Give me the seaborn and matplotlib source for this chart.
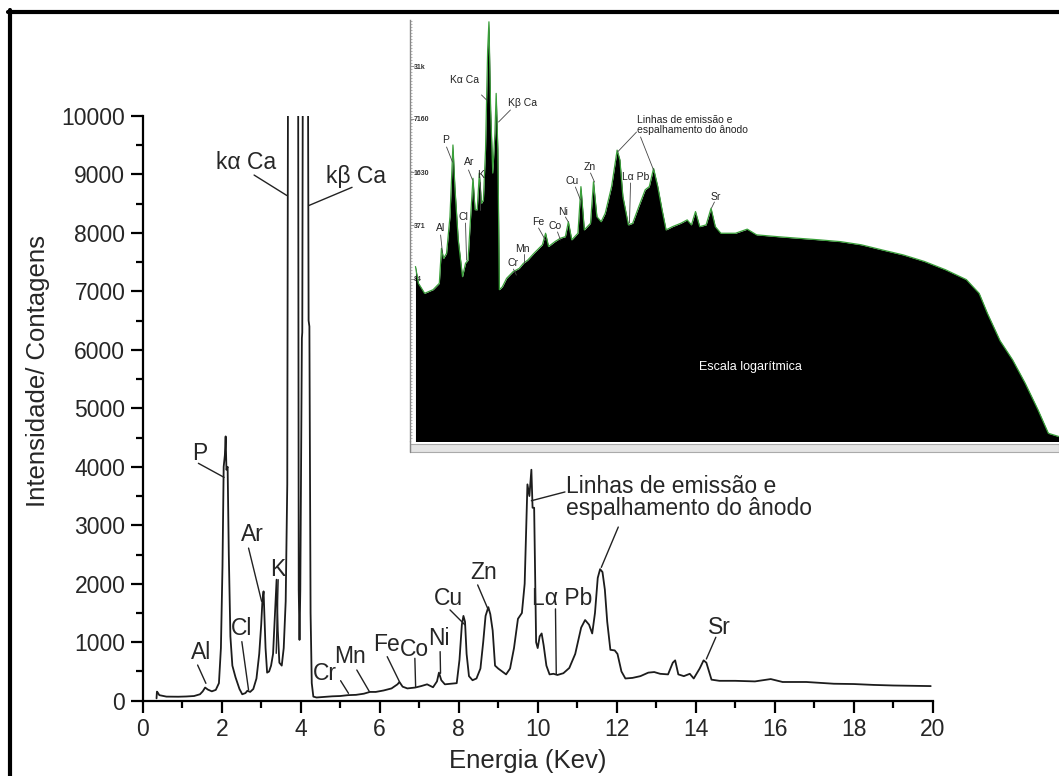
import numpy as np
import pandas as pd
import matplotlib
matplotlib.use("Agg")
import matplotlib.pyplot as plt
import seaborn as sns
from matplotlib.lines import Line2D
from matplotlib.patches import Rectangle
from matplotlib.ticker import MultipleLocator, FixedLocator, NullFormatter

# ---------------- data ----------------
# main spectrum (linear scale), energy in keV and counts
energy_kev = [0.35, 0.36, 0.38, 0.42, 0.6, 0.9, 1.1, 1.3, 1.45, 1.52, 1.58, 1.65, 1.75, 1.85,
              1.93, 1.98, 2.02, 2.05, 2.08, 2.10, 2.12, 2.15, 2.18, 2.22, 2.27, 2.35, 2.45,
              2.52, 2.6, 2.65, 2.72, 2.8, 2.88, 2.95, 3.0, 3.03, 3.06, 3.08, 3.11, 3.15, 3.2,
              3.25, 3.3, 3.35, 3.39, 3.42, 3.46, 3.52, 3.57, 3.62, 3.66, 3.69, 3.75, 3.85,
              3.93, 3.95, 3.97, 3.99, 4.03, 4.04, 4.06, 4.12, 4.18, 4.20, 4.22, 4.25, 4.28,
              4.32, 4.4, 4.6, 4.8, 5.0, 5.2, 5.4, 5.6, 5.75, 5.9, 6.1, 6.3, 6.45, 6.5, 6.58,
              6.7, 6.9, 7.05, 7.2, 7.35, 7.45, 7.5, 7.56, 7.65, 7.8, 7.95, 8.02, 8.08, 8.12,
              8.16, 8.2, 8.26, 8.35, 8.45, 8.55, 8.62, 8.68, 8.75, 8.8, 8.86, 8.92, 9.0, 9.1,
              9.2, 9.3, 9.4, 9.5, 9.6, 9.67, 9.74, 9.79, 9.84, 9.87, 9.91, 9.96, 10.0, 10.05,
              10.1, 10.15, 10.22, 10.3, 10.4, 10.5, 10.65, 10.8, 10.95, 11.1, 11.2, 11.3,
              11.38, 11.45, 11.52, 11.58, 11.64, 11.7, 11.76, 11.84, 11.95, 12.02, 12.12,
              12.22, 12.4, 12.6, 12.8, 12.95, 13.1, 13.3, 13.42, 13.48, 13.56, 13.7, 13.85,
              13.95, 14.1, 14.2, 14.27, 14.4, 14.6, 15.0, 15.5, 15.9, 16.2, 16.8, 17.5, 18.0,
              18.5, 19.0, 19.5, 19.95]
counts = [40, 155, 140, 95, 70, 68, 72, 80, 110, 160, 225, 190, 160, 185,
          300, 900, 2300, 4000, 4200, 4520, 3950, 4000, 2500, 1100, 600, 400, 200,
          110, 130, 170, 150, 200, 380, 800, 1300, 1700, 1870, 1500, 900, 480, 500,
          600, 800, 1500, 2070, 1200, 650, 600, 900, 1700, 3700, 15000, 40000, 30000,
          14000, 1900, 1040, 1900, 6200, 6300, 13000, 15000, 12000, 6500, 6400, 1500, 300,
          70, 55, 65, 75, 80, 95, 100, 120, 150, 150, 175, 210, 280, 320, 240,
          210, 225, 250, 280, 230, 330, 480, 350, 280, 290, 300, 700, 1300, 1450,
          1350, 800, 420, 350, 380, 550, 1000, 1450, 1600, 1480, 1200, 600, 550, 500,
          450, 550, 900, 1400, 1500, 2000, 3700, 3500, 3950, 3300, 3300, 1000, 900, 1100,
          1150, 950, 600, 450, 460, 440, 470, 560, 800, 1250, 1380, 1300,
          1150, 1500, 2100, 2250, 2200, 1900, 1350, 870, 860, 800, 500,
          380, 390, 420, 480, 490, 460, 450, 650, 690, 450, 420, 460,
          380, 550, 690, 650, 360, 340, 340, 330, 370, 320, 320, 290, 285,
          270, 260, 255, 250]

# inset spectrum (logarithmic scale screenshot)
inset_energy_kev = [0.28, 0.42, 0.71, 1.11, 1.40, 1.50, 1.60, 1.74, 1.90, 2.04, 2.13, 2.29,
                    2.49, 2.63, 2.75, 2.88, 2.98, 3.08, 3.18, 3.28, 3.38, 3.47, 3.57, 3.67,
                    3.73, 3.81, 3.91, 4.01, 4.07, 4.15, 4.22, 4.36, 4.56, 4.86, 5.15, 5.35,
                    5.55, 5.84, 6.24, 6.39, 6.53, 6.83, 7.08, 7.32, 7.46, 7.62, 7.91, 8.05,
                    8.21, 8.50, 8.64, 8.80, 9.0, 9.19, 9.49, 9.75, 9.88, 10.02, 10.28, 10.48,
                    10.77, 11.07, 11.26, 11.46, 11.66, 11.86, 12.05, 12.35, 12.74, 13.04,
                    13.24, 13.43, 13.63, 13.93, 14.16, 14.36, 14.62, 15.31, 15.86, 16.30,
                    17.28, 18.27, 19.25, 20.24, 21.22, 22.21, 23.19, 24.18, 25.17, 26.15,
                    26.75, 27.14, 27.73, 28.32, 28.91, 29.51, 30.0, 30.5]
inset_counts = [118, 74, 56, 62, 74, 196, 148, 170, 473, 3475, 1090, 248,
                89, 129, 141, 518, 1375, 573, 573, 1590, 686, 750, 3010, 49000,
                107000, 9250, 1590, 4800, 14600, 3010, 62, 67, 85, 102, 112, 129,
                141, 170, 216, 298, 206, 236, 259, 271, 411, 248, 298, 1090,
                327, 393, 1250, 473, 411, 518, 1090, 3010, 2300, 830, 376, 393,
                627, 1000, 1090, 1810, 1090, 573, 327, 358, 393, 432,
                376, 545, 358, 376, 597, 358, 298, 298, 334, 285,
                271, 259, 248, 236, 216, 187, 163, 136, 108, 82,
                56, 32, 15, 8.8, 4.6, 2.2, 1.14, 1.04]

x_ticks = [0, 2, 4, 6, 8, 10, 12, 14, 16, 18, 20]
y_ticks = [0, 1000, 2000, 3000, 4000, 5000, 6000, 7000, 8000, 9000, 10000]
inset_tick_values = [31000, 7160, 1630, 371, 84]
inset_tick_labels = ["31k", "7160", "1630", "371", "84"]

# peak labels on the main chart: text, text position, leader line start and end
main_labels = [
    ("kα Ca", 2.62, 9200, 2.82, 8990, 3.65, 8640),
    ("kβ Ca", 5.40, 8970, 5.30, 8780, 4.21, 8470),
    ("P", 1.45, 4220, 1.41, 4060, 2.06, 3820),
    ("Ar", 2.78, 2840, 2.68, 2610, 3.01, 1700),
    ("K", 3.41, 2250, 3.43, 2070, 3.38, 810),
    ("Cl", 2.51, 1240, 2.51, 1010, 2.68, 183),
    ("Al", 1.47, 820, 1.39, 610, 1.60, 297),
    ("Cr", 4.62, 470, 5.01, 342, 5.21, 126),
    ("Mn", 5.25, 753, 5.42, 525, 5.74, 154),
    ("Fe", 6.18, 953, 6.19, 753, 6.50, 325),
    ("Co", 6.87, 868, 6.89, 725, 6.91, 228),
    ("Ni", 7.51, 1067, 7.53, 839, 7.54, 468),
    ("Cu", 7.74, 1752, 7.78, 1553, 8.16, 1296),
    ("Zn", 8.62, 2190, 8.48, 1980, 8.75, 1552),
    ("Lα Pb", 10.62, 1740, 10.45, 1570, 10.47, 457),
    ("Sr", 14.6, 1244, 14.51, 1085, 14.27, 713),
]
anode_text = "Linhas de emissão e\nespalhamento do ânodo"
anode_lines = [(10.69, 3570, 9.84, 3420), (12.04, 2970, 11.61, 2280)]

inset_labels = [
    ("Kα Ca", 2.58, 21200, 3.38, 13980, 3.62, 12150),
    ("Kβ Ca", 5.31, 11200, 4.74, 9200, 4.18, 6580),
    ("P", 1.69, 3990, 1.74, 3285, 2.02, 2160),
    ("Ar", 2.82, 2160, 2.77, 1733, 2.96, 1310),
    ("K", 3.33, 1507, 3.29, 1240, 3.29, 569),
    ("Cl", 2.54, 469, 2.63, 396, 2.68, 141),
    ("Al", 1.46, 345, 1.46, 284, 1.55, 172),
    ("Cu", 7.65, 1275, 7.79, 1079, 8.03, 752),
    ("Zn", 8.45, 1882, 8.50, 1594, 8.69, 1236),
    ("Lα Pb", 10.61, 1423, 10.38, 1207, 10.33, 396),
    ("Ni", 7.23, 538, 7.32, 469, 7.46, 408),
    ("Fe", 6.06, 408, 6.06, 345, 6.38, 247),
    ("Co", 6.85, 365, 6.95, 309, 7.09, 247),
    ("Mn", 5.31, 192, 5.40, 167, 5.40, 130),
    ("Cr", 4.84, 130, 4.88, 110, 5.02, 93),
    ("Sr", 14.37, 817, 14.32, 711, 14.18, 600),
]
inset_anode_lines = [(10.66, 4980, 9.77, 2860), (10.85, 4340, 11.46, 1733)]

# ---------------- figure ----------------
sns.set_style("white")
plt.rcParams['font.family'] = ['Liberation Sans', 'DejaVu Sans']

W, H = 1059, 776
fig = plt.figure(figsize=(W / 100, H / 100), dpi=100)

def px_rect(x0, y0, x1, y1):
    return [x0 / W, 1 - y1 / H, (x1 - x0) / W, (y1 - y0) / H]

main_df = pd.DataFrame({"Energia": energy_kev, "Contagens": counts})
ax = fig.add_axes(px_rect(142.7, 116.0, 932.7, 700.7))
sns.lineplot(data=main_df, x="Energia", y="Contagens", ax=ax, sort=False,
             estimator=None, color="#1c1c1c", lw=1.3)
ax.set_xlim(0, 20)
ax.set_ylim(0, 10000)
ax.set_xticks(x_ticks)
ax.set_yticks(y_ticks)
ax.xaxis.set_minor_locator(MultipleLocator(1))
ax.yaxis.set_minor_locator(MultipleLocator(500))
for s in ["top", "right"]:
    ax.spines[s].set_visible(False)
for s in ["left", "bottom"]:
    ax.spines[s].set_linewidth(1.6)
    ax.spines[s].set_color("black")
ax.tick_params(which="major", direction="out", length=8.5, width=1.6,
               labelsize=16.5, pad=4, color="black", left=True, bottom=True)
ax.tick_params(which="minor", direction="out", length=5, width=1.6,
               color="black", left=True, bottom=True)
ax.set_xlabel("Energia (Kev)", fontsize=18.5)
ax.set_ylabel("Intensidade/ Contagens", fontsize=18.5)
ax.xaxis.set_label_coords(0.488, -0.083)
ax.yaxis.set_label_coords(-0.117, 0.564)
ax.grid(False)
ax.patch.set_alpha(0)

for txt, tx, ty, x0, y0, x1, y1 in main_labels:
    ax.text(tx, ty, txt, fontsize=16.5, ha="center", va="center")
    ax.plot([x0, x1], [y0, y1], color="#222222", lw=1.0, clip_on=False)
ax.text(10.72, 3470, anode_text, fontsize=16.5, ha="left", va="center", linespacing=0.95)
for x0, y0, x1, y1 in anode_lines:
    ax.plot([x0, x1], [y0, y1], color="#222222", lw=1.0, clip_on=False)

# ---------------- inset (log scale screenshot) ----------------
inset_df = pd.DataFrame({"Energia": inset_energy_kev, "Contagens": inset_counts})
ia = fig.add_axes(px_rect(409.5, 20.0, 1059.0, 441.0))
ia.set_facecolor("white")
ia.set_yscale("log")
ia.fill_between(inset_df["Energia"], inset_df["Contagens"], 1e-3, color="black", lw=0)
sns.lineplot(data=inset_df, x="Energia", y="Contagens", ax=ia, sort=False,
             estimator=None, color="#3aa03a", lw=0.9)
ia.set_xlim(0, 30.5)
ia.set_ylim(0.92, 112500)
ia.set_xlabel("")
ia.set_ylabel("")
ia.set_xticks([])
ia.yaxis.set_major_locator(FixedLocator(inset_tick_values))
ia.set_yticklabels(inset_tick_labels)
ia.yaxis.set_minor_locator(FixedLocator(np.geomspace(1, 110000, 140)))
ia.yaxis.set_minor_formatter(NullFormatter())
ia.tick_params(axis="y", which="major", direction="in", length=3, width=0.6,
               color="#777777", labelsize=5, pad=-3, left=True)
ia.tick_params(axis="y", which="minor", direction="in", length=1.5, width=0.5,
               color="#999999", left=True)
for lbl in ia.get_yticklabels():
    lbl.set_horizontalalignment("left")
    lbl.set_fontweight("bold")
    lbl.set_color("#333333")
for s in ["top", "right", "bottom"]:
    ia.spines[s].set_visible(False)
ia.spines["left"].set_color("#888888")
ia.spines["left"].set_linewidth(1.0)
ia.grid(False)

for txt, tx, ty, x0, y0, x1, y1 in inset_labels:
    ia.text(tx, ty, txt, fontsize=7.5, ha="center", va="center", color="#222222")
    ia.plot([x0, x1], [y0, y1], color="#444444", lw=0.6)
ia.text(10.66, 6060, anode_text, fontsize=7.5, ha="left", va="center",
        color="#222222", linespacing=1.0)
for x0, y0, x1, y1 in inset_anode_lines:
    ia.plot([x0, x1], [y0, y1], color="#444444", lw=0.6)
ia.text(16.0, 7.2, "Escala logarítmica", fontsize=9, ha="center", va="center", color="white")

# scrollbar of the screenshot
ia.add_patch(Rectangle((0.0, -0.027), 1.0, 0.019, transform=ia.transAxes,
                       facecolor="#e4e4e4", edgecolor="#aaaaaa", lw=0.8, clip_on=False))
fig.add_artist(Line2D([409.5 / W, 409.5 / W], [1 - 441 / H, 1 - 452 / H],
                      color="#888888", lw=1.0))

# outer frame of the figure (top and left visible)
fig.add_artist(Line2D([8 / W, 1.0], [1 - 11.5 / H, 1 - 11.5 / H], color="black", lw=3.0))
fig.add_artist(Line2D([9.5 / W, 9.5 / W], [0.0, 1 - 10 / H], color="black", lw=3.0))

fig.savefig("out.png", dpi=100, facecolor="white")
